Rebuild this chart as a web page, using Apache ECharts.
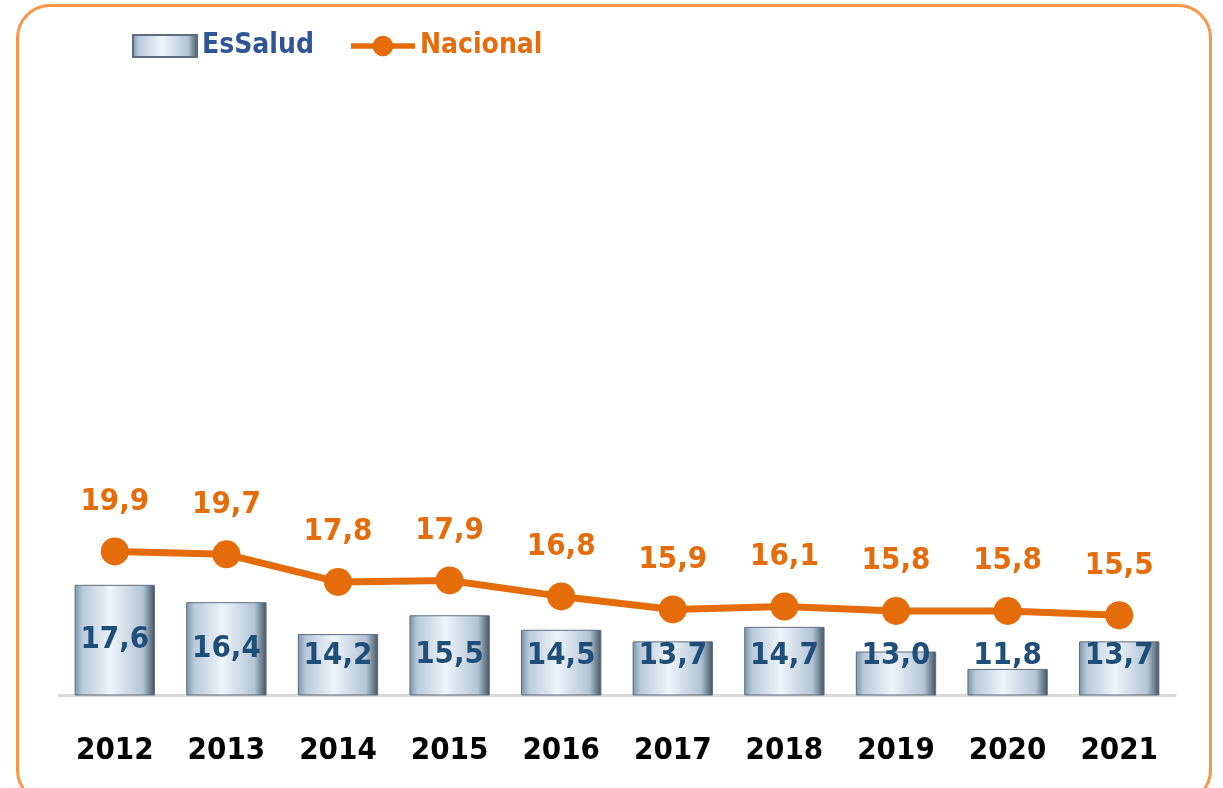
<!DOCTYPE html>
<html>
<head>
<meta charset="utf-8">
<script src="https://cdn.jsdelivr.net/npm/echarts@6/dist/echarts.min.js"></script>
<style>
  html,body{margin:0;padding:0;background:#fff;}
  #frame{position:absolute;left:16px;top:4px;width:1196px;height:800px;border:3px solid #F79646;border-radius:34px;box-sizing:border-box;}
  #chart{position:absolute;left:0;top:0;width:1223px;height:788px;}
</style>
</head>
<body>
<div id="frame"></div>
<div id="chart"></div>
<script>
// datos
var years = ['2012','2013','2014','2015','2016','2017','2018','2019','2020','2021'];
var essalud = [17.6,16.4,14.2,15.5,14.5,13.7,14.7,13.0,11.8,13.7];
var nacional = [19.9,19.7,17.8,17.9,16.8,15.9,16.1,15.8,15.8,15.5];

var FONT = '"Liberation Sans Narrow","DejaVu Sans Condensed",sans-serif';
var yMin = 10, yMax = 50;

function fmt(v){ return v.toFixed(1).replace('.', ','); }

var myChart = echarts.init(document.getElementById('chart'));

var barGrad = new echarts.graphic.LinearGradient(0,0,1,0,[
    {offset:0, color:'#7d92a8'},
    {offset:0.1, color:'#b9cadb'},
    {offset:0.45, color:'#eef4fa'},
    {offset:0.85, color:'#b3c4d6'},
    {offset:1, color:'#44525f'}
]);

// etiqueta dentro de barras cortas va abajo
var barData = essalud.map(function(v){
    var h = (v - yMin) * 14.5;
    var lab = h / 2 > 38 ? {position:'inside'} : {position:'insideBottom', distance:24};
    return {value:v, label:lab};
});

// icono leyenda: linea + circulo
var lineIcon = 'path://M0,8H68V14H0Z M23,11a11,11 0 1,1 22,0a11,11 0 1,1 -22,0Z';

var option = {
    animation:false,
    legend:{
        left:127, top:27,
        itemWidth:64, itemHeight:22, itemGap:37,
        data:[
            {name:'EsSalud', icon:'rect', textStyle:{color:'#2F5597'}},
            {name:'Nacional', icon:lineIcon, itemStyle:{color:'#E46C0A'}, textStyle:{color:'#E46C0A'}}
        ],
        textStyle:{fontFamily:FONT, fontSize:28, fontWeight:'bold'}
    },
    grid:{left:59, right:48, top:115, bottom:93},
    xAxis:{
        type:'category',
        data:years,
        axisLine:{lineStyle:{color:'#d9d9d9', width:3}},
        axisTick:{show:false},
        axisLabel:{interval:0, color:'#000', fontFamily:FONT, fontSize:31, fontWeight:'bold', margin:40}
    },
    yAxis:{
        type:'value', min:yMin, max:yMax,
        show:false
    },
    series:[
        {
            name:'EsSalud',
            type:'bar',
            barWidth:'72%',
            data:barData,
            itemStyle:{color:barGrad, borderColor:'#5d6d7e', borderWidth:1},
            label:{
                show:true,
                color:'#1F4E79',
                fontFamily:FONT, fontSize:31, fontWeight:'bold',
                formatter:function(p){ return fmt(p.value); }
            }
        },
        {
            name:'Nacional',
            type:'line',
            data:nacional,
            symbol:'circle',
            symbolSize:28,
            lineStyle:{color:'#E46C0A', width:7},
            itemStyle:{color:'#E46C0A'},
            label:{
                show:true, position:'top', distance:20,
                color:'#E46C0A',
                fontFamily:FONT, fontSize:31, fontWeight:'bold',
                formatter:function(p){ return fmt(p.value); }
            }
        }
    ]
};

myChart.setOption(option);
</script>
</body>
</html>
